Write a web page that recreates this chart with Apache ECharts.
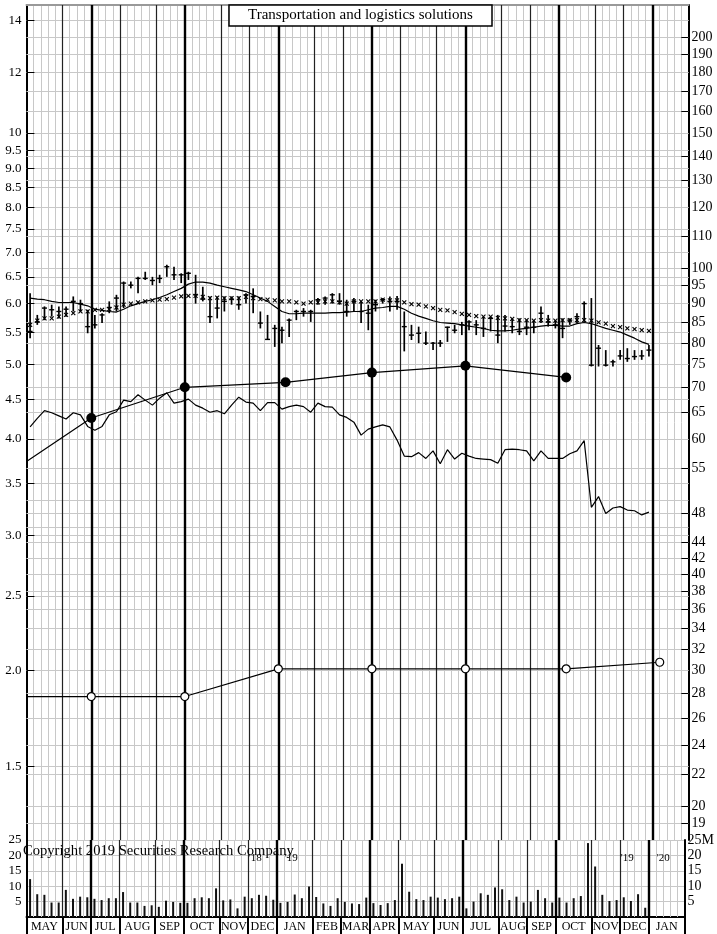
<!DOCTYPE html>
<html>
<head>
<meta charset="utf-8">
<script src="https://cdn.jsdelivr.net/npm/echarts@6/dist/echarts.min.js"></script>
<style>
html, body { margin: 0; padding: 0; background: #fff; }
#chart { width: 717px; height: 934px; }
</style>
</head>
<body>
<div id="chart"></div>
<script>
var myChart = echarts.init(document.getElementById('chart'));
var SERIF = "'Liberation Serif', 'DejaVu Serif', serif";

var titleText = 'Transportation and logistics solutions';
var copyText = 'Copyright 2019 Securities Research Company';

// weekly x axis: week 0 = first week of May 2018, 92 weeks in all
var months = ['MAY', 'JUN', 'JUL', 'AUG', 'SEP', 'OCT', 'NOV', 'DEC', 'JAN', 'FEB', 'MAR',
    'APR', 'MAY', 'JUN', 'JUL', 'AUG', 'SEP', 'OCT', 'NOV', 'DEC', 'JAN'];
var monthEdges = [0, 5, 9, 13, 18, 22, 27, 31, 35, 40, 44, 48, 52, 57, 61, 66, 70, 74, 79, 83, 87, 92];
var quarterEdges = [9, 22, 35, 48, 61, 74, 87];
var yearMarks = [
    { week: 35, before: "'18", after: "'19" },
    { week: 87, before: "'19", after: "'20" }
];

// weekly price bars
var priceHigh = [6.19, 5.80, 5.95, 5.98, 5.95, 5.95, 6.13, 6.07, 5.89, 5.80, 5.83, 6.04, 6.16, 6.41, 6.41, 6.50,
    6.60, 6.50, 6.54, 6.74, 6.70, 6.57, 6.60, 6.54, 6.31, 6.13, 6.13, 6.13, 6.13, 6.13, 6.19, 6.28, 5.86, 5.80,
    5.63, 5.60, 5.74, 5.89, 5.92, 5.89, 6.10, 6.13, 6.19, 6.19, 6.07, 6.10,
    6.04, 5.98, 6.07, 6.10, 6.13, 6.14, 5.86, 5.63, 5.60, 5.52, 5.35, 5.38, 5.60, 5.63, 5.68, 5.71, 5.71, 5.77,
    5.77, 5.80, 5.80, 5.74, 5.74, 5.71, 5.71, 5.95, 5.80, 5.71, 5.74, 5.74, 5.83, 6.04, 6.10, 5.30, 5.22, 5.07,
    5.22, 5.25, 5.22, 5.22, 5.30];
var priceLow = [5.41, 5.63, 5.71, 5.77, 5.74, 5.77, 5.86, 5.86, 5.49, 5.57, 5.66, 5.83, 5.86, 5.92, 6.28, 6.19,
    6.44, 6.34, 6.38, 6.50, 6.44, 6.38, 6.44, 6.00, 6.04, 5.66, 5.74, 5.86, 5.98, 5.89, 6.00, 5.83, 5.57, 5.38,
    5.27, 5.33, 5.43, 5.71, 5.77, 5.68, 5.98, 5.98, 6.00, 5.98, 5.77, 5.86,
    5.66, 5.54, 5.86, 6.00, 5.86, 5.89, 5.20, 5.38, 5.33, 5.30, 5.22, 5.27, 5.35, 5.49, 5.46, 5.54, 5.46, 5.43,
    5.52, 5.33, 5.52, 5.49, 5.46, 5.46, 5.49, 5.66, 5.60, 5.57, 5.41, 5.63, 5.66, 5.68, 4.97, 4.97, 4.97, 4.97,
    5.07, 5.04, 5.07, 5.07, 5.12];
var priceClose = [5.52, 5.68, 5.92, 5.89, 5.86, 5.90, 6.04, 6.00, 5.60, 5.63, 5.80, 5.93, 6.10, 6.38, 6.34, 6.47,
    6.47, 6.43, 6.47, 6.70, 6.54, 6.54, 6.57, 6.16, 6.08, 5.77, 5.92, 6.04, 6.08, 5.98, 6.16, 6.13, 5.66, 5.39,
    5.57, 5.54, 5.71, 5.86, 5.86, 5.86, 6.07, 6.10, 6.16, 6.04, 5.86, 6.04,
    5.86, 5.83, 5.98, 6.07, 6.04, 6.04, 5.60, 5.46, 5.49, 5.33, 5.33, 5.33, 5.59, 5.54, 5.63, 5.68, 5.63, 5.57,
    5.74, 5.46, 5.61, 5.60, 5.52, 5.59, 5.59, 5.83, 5.68, 5.63, 5.57, 5.71, 5.77, 6.00, 4.99, 5.25, 4.99, 5.04,
    5.13, 5.09, 5.12, 5.13, 5.22];
// 10-week average (solid) and 40-week average (x marks)
var ma10 = [6.10, 6.08, 6.07, 6.04, 6.02, 6.02, 6.02, 5.99, 5.96, 5.90, 5.88, 5.86, 5.85, 5.90, 5.96, 6.00, 6.04,
    6.07, 6.11, 6.16, 6.22, 6.28, 6.36, 6.40, 6.40, 6.38, 6.34, 6.31, 6.28, 6.25, 6.22, 6.16, 6.10, 6.04, 5.95,
    5.86, 5.82, 5.82, 5.83, 5.83, 5.83, 5.83, 5.84, 5.84, 5.85, 5.86,
    5.86, 5.89, 5.92, 5.93, 5.95, 5.95, 5.90, 5.83, 5.78, 5.74, 5.70, 5.67, 5.66, 5.65, 5.63, 5.61, 5.59, 5.57,
    5.54, 5.53, 5.53, 5.54, 5.56, 5.57, 5.59, 5.61, 5.62, 5.62, 5.61, 5.61, 5.65, 5.67, 5.65, 5.61, 5.57, 5.54,
    5.51, 5.46, 5.41, 5.35, 5.31];
var ma40 = [5.63, 5.70, 5.74, 5.74, 5.77, 5.80, 5.83, 5.86, 5.86, 5.89, 5.89, 5.90, 5.93, 5.98, 6.00, 6.02, 6.04,
    6.06, 6.07, 6.08, 6.11, 6.13, 6.14, 6.14, 6.12, 6.10, 6.11, 6.10, 6.10, 6.10, 6.12, 6.10, 6.08, 6.07, 6.06,
    6.04, 6.04, 6.02, 6.00, 6.02, 6.02, 6.04, 6.04, 6.02, 6.00, 6.04,
    6.04, 6.04, 6.04, 6.07, 6.06, 6.06, 6.02, 5.99, 5.98, 5.95, 5.92, 5.89, 5.88, 5.85, 5.82, 5.80, 5.78, 5.77,
    5.77, 5.75, 5.74, 5.73, 5.71, 5.71, 5.70, 5.71, 5.70, 5.70, 5.71, 5.71, 5.71, 5.71, 5.70, 5.67, 5.65, 5.61,
    5.59, 5.57, 5.56, 5.54, 5.53];
// relative strength line (right-hand scale)
var relStrength = [62.2, 63.8, 65.3, 64.9, 64.3, 63.7, 64.9, 64.5, 62.3, 61.6, 62.3, 64.5, 65.1, 67.4, 67.1, 68.5,
    67.4, 66.4, 67.8, 68.9, 66.8, 67.1, 67.6, 66.4, 65.8, 65.0, 65.3, 64.7, 66.4, 68.0, 67.0, 66.8, 65.3, 66.9,
    66.9, 65.6, 66.1, 66.4, 66.1, 65.0, 66.8, 66.1, 66.0, 64.5, 64.0, 63.1,
    60.7, 61.8, 62.2, 62.6, 62.2, 59.8, 57.0, 56.9, 57.6, 56.6, 57.9, 55.7, 58.1, 56.5, 57.5, 57.0, 56.6, 56.5,
    56.4, 55.8, 58.1, 58.2, 58.1, 57.9, 56.2, 57.9, 56.6, 56.6, 56.6, 57.4, 57.9, 59.7, 48.9, 50.5, 48.0, 48.8,
    49.0, 48.5, 48.4, 47.8, 48.2];
// weekly volume, millions
var volume = [12.3, 7.4, 7.2, 4.7, 4.7, 8.8, 5.9, 6.6, 6.4, 5.9, 5.5, 6.1, 6.1, 8.1, 4.7, 4.7, 3.6, 3.8, 3.3,
    5.3, 4.9, 4.6, 4.6, 6.1, 6.4, 6.1, 9.3, 5.4, 5.7, 2.8, 6.6, 6.1, 7.2, 6.9, 5.6, 4.6, 4.9, 7.3, 6.1, 9.9,
    6.5, 4.4, 3.6, 6.1, 4.9, 4.4,
    4.2, 6.3, 4.5, 3.9, 4.5, 5.5, 17.3, 8.2, 5.8, 5.5, 6.6, 6.3, 5.8, 6.1, 6.6, 2.8, 5.0, 7.7, 7.2, 9.6, 9.0,
    5.5, 6.6, 4.7, 5.0, 8.8, 6.1, 4.7, 6.3, 4.7, 6.1, 6.8, 24.0, 16.4, 7.2, 5.2, 5.5, 6.4, 5.2, 7.4, 3.0];
// earnings (filled dots) and dividends (open dots), plotted at week positions
var earnWeek = [0, 9, 22, 36, 48, 61, 75];
var earnings = [3.74, 4.26, 4.67, 4.74, 4.88, 4.98, 4.81];
var divWeek = [0, 9, 22, 35, 48, 61, 75, 88];
var dividends = [1.85, 1.85, 1.85, 2.01, 2.01, 2.01, 2.01, 2.05];

var leftTicks = [14, 12, 10, 9.5, 9, 8.5, 8, 7.5, 7, 6.5, 6, 5.5, 5, 4.5, 4, 3.5, 3, 2.5, 2, 1.5];
var rightTicks = [200, 190, 180, 170, 160, 150, 140, 130, 120, 110, 100, 95, 90, 85, 80, 75, 70, 65, 60, 55,
    48, 44, 42, 40, 38, 36, 34, 32, 30, 28, 26, 24, 22, 20, 19];
var rightExtra = [50, 46];

var GRID = '#c8c8c8';

function pts(vals, off) {
    return vals.map(function (v, i) { return [i + off, v]; });
}
function hLine(v, text, pos, dist, size) {
    return {
        yAxis: v, name: text || '',
        label: { show: !!text, position: pos, formatter: '{b}', color: '#000', fontFamily: SERIF, fontSize: size, distance: dist },
        lineStyle: { color: GRID, width: 1, type: 'solid' }
    };
}
function seg(x1, x2, v) {
    return [{ coord: [x1, v], lineStyle: { color: '#000', width: 1, type: 'solid' }, label: { show: false } }, { coord: [x2, v] }];
}
function vLine(x, color, width) {
    return { xAxis: x, lineStyle: { color: color, width: width, type: 'solid' }, label: { show: false } };
}
function monthLines() {
    var out = [];
    monthEdges.forEach(function (e) {
        if (e === 0 || e === 92) return;
        var q = quarterEdges.indexOf(e) >= 0;
        out.push(vLine(e, q ? '#000' : '#222', q ? 2.4 : 1.2));
    });
    return out;
}

var leftLines = leftTicks.map(function (v) {
    return hLine(v, v >= 10 ? String(v) : v.toFixed(1), 'start', 5, 13);
});
leftTicks.forEach(function (v) { leftLines.push(seg(0, 1.1, v)); });
leftLines = leftLines.concat(monthLines());

var rightLines = rightTicks.map(function (v) { return hLine(v, String(v), 'end', 3, 14); });
rightExtra.forEach(function (v) { rightLines.push(hLine(v, '', 'end', 3, 14)); });
leftTicks.forEach(function (v) { rightLines.push(hLine(v * 15, '', 'end', 3, 14)); });
rightTicks.forEach(function (v) { rightLines.push(seg(91, 92, v)); });

var volLines = [];
for (var w = 1; w < 92; w++) volLines.push(vLine(w, GRID, 1));
volLines = volLines.concat(monthLines());

var monthMid = [];
for (var m = 0; m < months.length; m++) monthMid.push((monthEdges[m] + monthEdges[m + 1]) / 2);

var barData = priceHigh.map(function (h, i) { return [i + 0.5, h, priceLow[i], priceClose[i]]; });

var markBase = { silent: true, symbol: ['none', 'none'], animation: false, label: { show: false } };

option = {
    animation: false,
    backgroundColor: '#fff',
    title: {
        text: titleText, left: 229, top: 5, padding: [3, 19, 3, 19],
        borderColor: '#000', borderWidth: 1.5, backgroundColor: '#fff',
        textStyle: { fontFamily: SERIF, fontSize: 15, fontWeight: 'normal', color: '#000' }
    },
    grid: [
        { left: 26.5, right: 28.5, top: 5, height: 835 },
        { left: 26.5, right: 28.5, top: 840, height: 77 }
    ],
    xAxis: [{
        gridIndex: 0, type: 'value', min: 0, max: 92, interval: 1, position: 'top',
        axisLine: { show: true, lineStyle: { color: '#999', width: 2 } },
        axisTick: { show: false }, axisLabel: { show: false },
        splitLine: { show: true, lineStyle: { color: GRID, width: 1 } }
    }, {
        gridIndex: 1, type: 'value', min: 0, max: 92, position: 'bottom',
        axisLine: { show: true, onZero: false, lineStyle: { color: '#000', width: 2 } },
        axisTick: { show: true, customValues: monthEdges, length: 17, lineStyle: { color: '#000', width: 2 } },
        axisLabel: {
            customValues: monthMid, margin: 4, color: '#000', fontFamily: SERIF, fontSize: 12,
            formatter: function (v) { var k = monthMid.indexOf(v); return k >= 0 ? months[k] : ''; }
        },
        splitLine: { show: false }
    }],
    yAxis: [{
        gridIndex: 0, type: 'log', logBase: 10, min: 1.204, max: 14.67, position: 'left',
        axisLine: { show: true, lineStyle: { color: '#000', width: 2 } },
        axisTick: { show: false }, axisLabel: { show: false }, splitLine: { show: false }
    }, {
        gridIndex: 0, type: 'log', logBase: 10, min: 18.06, max: 220, position: 'right',
        axisLine: { show: true, lineStyle: { color: '#000', width: 2 } },
        axisTick: { show: false }, axisLabel: { show: false }, splitLine: { show: false }
    }, {
        gridIndex: 1, type: 'value', min: 0, max: 25, interval: 5, position: 'left',
        axisLine: { show: true, lineStyle: { color: '#000', width: 2 } },
        axisTick: { show: false },
        axisLabel: { showMinLabel: false, margin: 5, color: '#000', fontFamily: SERIF, fontSize: 13 },
        splitLine: { show: true, lineStyle: { color: GRID, width: 1 } }
    }, {
        gridIndex: 1, type: 'value', min: 0, max: 25, interval: 5, position: 'right',
        axisLine: { show: true, lineStyle: { color: '#000', width: 2 } },
        axisTick: { show: false },
        axisLabel: {
            showMinLabel: false, margin: 3, color: '#000', fontFamily: SERIF, fontSize: 14,
            formatter: function (v) { return v === 25 ? '25M' : String(v); }
        },
        splitLine: { show: false }
    }],
    series: [{
        // gridlines and labels of the right-hand scale
        type: 'line', xAxisIndex: 0, yAxisIndex: 1, data: [], z: 1,
        markLine: Object.assign({ data: rightLines }, markBase)
    }, {
        // gridlines and labels of the price scale, month dividers
        type: 'line', xAxisIndex: 0, yAxisIndex: 0, data: [], z: 2,
        markLine: Object.assign({ data: leftLines }, markBase)
    }, {
        type: 'line', xAxisIndex: 1, yAxisIndex: 2, data: [], z: 2,
        markLine: Object.assign({ data: volLines }, markBase)
    }, {
        name: 'price', type: 'custom', xAxisIndex: 0, yAxisIndex: 0, z: 5,
        data: barData, encode: { x: 0, y: [1, 2, 3] },
        renderItem: function (params, api) {
            var x = api.value(0);
            var pH = api.coord([x, api.value(1)]);
            var pL = api.coord([x, api.value(2)]);
            var pC = api.coord([x, api.value(3)]);
            return {
                type: 'group', children: [
                    { type: 'line', shape: { x1: pH[0], y1: pH[1], x2: pL[0], y2: pL[1] }, style: { stroke: '#000', lineWidth: 1.7 } },
                    { type: 'line', shape: { x1: pC[0] - 2.5, y1: pC[1], x2: pC[0] + 2.5, y2: pC[1] }, style: { stroke: '#000', lineWidth: 1.4 } }
                ]
            };
        }
    }, {
        name: 'ma40', type: 'custom', xAxisIndex: 0, yAxisIndex: 0, z: 5,
        data: pts(ma40, 0.5), encode: { x: 0, y: 1 },
        renderItem: function (params, api) {
            var p = api.coord([api.value(0), api.value(1)]);
            var s = 2;
            return {
                type: 'group', children: [
                    { type: 'line', shape: { x1: p[0] - s, y1: p[1] - s, x2: p[0] + s, y2: p[1] + s }, style: { stroke: '#000', lineWidth: 1.1 } },
                    { type: 'line', shape: { x1: p[0] - s, y1: p[1] + s, x2: p[0] + s, y2: p[1] - s }, style: { stroke: '#000', lineWidth: 1.1 } }
                ]
            };
        }
    }, {
        name: 'ma10', type: 'line', xAxisIndex: 0, yAxisIndex: 0, z: 5,
        data: pts(ma10, 0.5), showSymbol: false,
        lineStyle: { color: '#000', width: 1.2 }
    }, {
        name: 'rs', type: 'line', xAxisIndex: 0, yAxisIndex: 1, z: 5,
        data: pts(relStrength, 0.5), showSymbol: false,
        lineStyle: { color: '#000', width: 1.2 }
    }, {
        name: 'earnings', type: 'line', xAxisIndex: 0, yAxisIndex: 0, z: 6,
        data: earnings.map(function (v, i) {
            return i === 0 ? { value: [earnWeek[i], v], symbol: 'none' } : [earnWeek[i], v];
        }),
        symbol: 'circle', symbolSize: 10, showAllSymbol: true,
        itemStyle: { color: '#000' },
        lineStyle: { color: '#000', width: 1.2 }
    }, {
        name: 'dividends', type: 'line', xAxisIndex: 0, yAxisIndex: 0, z: 6,
        data: dividends.map(function (v, i) {
            return i === 0 ? { value: [divWeek[i], v], symbol: 'none' } : [divWeek[i], v];
        }),
        symbol: 'circle', symbolSize: 8, showAllSymbol: true,
        itemStyle: { color: '#fff', borderColor: '#000', borderWidth: 1.2 },
        lineStyle: { color: '#000', width: 1.2 }
    }, {
        name: 'volume', type: 'bar', xAxisIndex: 1, yAxisIndex: 2, z: 5,
        data: pts(volume, 0.5), barWidth: 2,
        itemStyle: { color: '#111' }
    }]
};
myChart.setOption(option);

// year markers and copyright line, placed from the axes
var gfx = [];
var yearY = myChart.convertToPixel({ yAxisIndex: 2 }, 19);
yearMarks.forEach(function (m) {
    var x = myChart.convertToPixel({ xAxisIndex: 1 }, m.week);
    gfx.push({ type: 'text', x: x - 15, y: yearY, z: 10,
        style: { text: m.before, align: 'right', verticalAlign: 'middle', fontFamily: SERIF, fontSize: 11, fill: '#000' } });
    gfx.push({ type: 'text', x: x + 8, y: yearY, z: 10,
        style: { text: m.after, align: 'left', verticalAlign: 'middle', fontFamily: SERIF, fontSize: 11, fill: '#000' } });
});
gfx.push({ type: 'text', x: 23, y: 851, z: 10,
    style: { text: copyText, align: 'left', verticalAlign: 'middle', fontFamily: SERIF, fontSize: 14.6, fill: '#000' } });
myChart.setOption({ graphic: gfx });

window.addEventListener('resize', function () {
    myChart.resize();
});
</script>
</body>
</html>
